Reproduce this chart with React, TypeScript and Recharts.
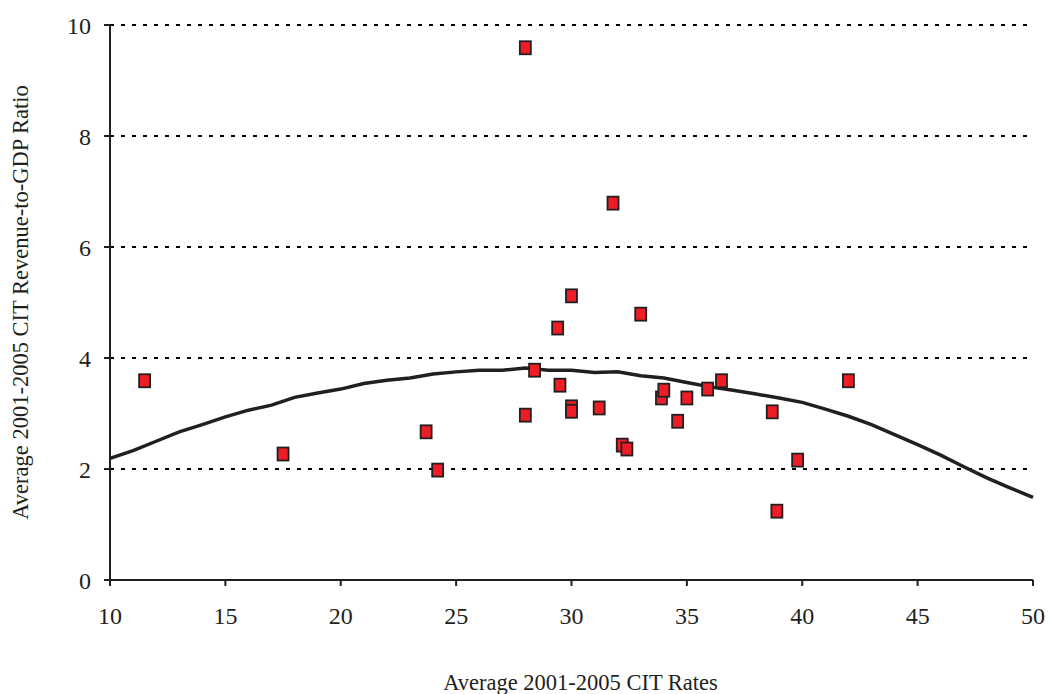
import { ComposedChart, Scatter, XAxis, YAxis, CartesianGrid } from 'recharts';

// country observations: average CIT rate vs CIT revenue / GDP
const citRates = [
  11.5, 17.5, 23.7, 24.2, 28.0, 28.0, 28.4, 29.4, 29.5, 30.0, 30.0, 30.0, 31.2,
  31.8, 32.2, 32.4, 33.0, 33.9, 34.0, 34.6, 35.0, 35.9, 36.5, 38.7, 38.9, 39.8, 42.0,
];
const revenueRatios = [
  3.59, 2.27, 2.67, 1.98, 9.59, 2.97, 3.78, 4.54, 3.51, 5.12, 3.12, 3.04, 3.1,
  6.79, 2.43, 2.36, 4.79, 3.28, 3.42, 2.86, 3.28, 3.44, 3.59, 3.03, 1.24, 2.16, 3.59,
];

// fitted trend, read at whole rates
const trendRates = [
  10, 11, 12, 13, 14, 15, 16, 17, 18, 19, 20, 21, 22, 23, 24, 25, 26, 27, 28, 29,
  30, 31, 32, 33, 34, 35, 36, 37, 38, 39, 40, 41, 42, 43, 44, 45, 46, 47, 48, 49, 50,
];
const trendRatios = [
  2.19, 2.33, 2.5, 2.67, 2.8, 2.94, 3.06, 3.15, 3.29, 3.37, 3.44, 3.54, 3.6, 3.64,
  3.71, 3.75, 3.78, 3.78, 3.82, 3.78, 3.78, 3.74, 3.75, 3.68, 3.64, 3.56, 3.48, 3.42,
  3.35, 3.28, 3.2, 3.08, 2.95, 2.8, 2.62, 2.44, 2.25, 2.04, 1.84, 1.66, 1.49,
];

const xTicks = [10, 15, 20, 25, 30, 35, 40, 45, 50];
const yTicks = [0, 2, 4, 6, 8, 10];

const points = citRates.map((x, i) => ({ x, y: revenueRatios[i] }));
const trend = trendRates.map((x, i) => ({ x, y: trendRatios[i] }));

const INK = '#231F20';
const FONT = '"Liberation Serif", "DejaVu Serif", serif';

const Square = (props: any) => {
  const { cx, cy } = props;
  if (cx == null || cy == null) return null;
  return <rect x={cx - 5.5} y={cy - 6.5} width={11} height={13} fill="#EE1C25" stroke={INK} strokeWidth={1.8} />;
};

export default function App() {
  const tick = { fontSize: 24, fill: INK, fontFamily: FONT };
  return (
    <div style={{ width: 1048, height: 694, overflow: 'hidden', background: '#fff' }}>
      <style>{'body{margin:0}'}</style>
      <ComposedChart width={1048} height={694} margin={{ top: 25, right: 15, bottom: 0, left: 0 }}>
        <CartesianGrid
          horizontal
          vertical={false}
          stroke="#000"
          strokeWidth={2}
          strokeDasharray="4 7"
          horizontalValues={[2, 4, 6, 8, 10]}
        />
        <XAxis
          type="number"
          dataKey="x"
          domain={[10, 50]}
          ticks={xTicks}
          height={114}
          tickSize={6}
          tickMargin={21}
          tick={tick}
          axisLine={{ stroke: INK, strokeWidth: 2 }}
          tickLine={{ stroke: INK, strokeWidth: 2 }}
          label={{
            value: 'Average 2001-2005 CIT Rates',
            position: 'insideBottom',
            offset: 4,
            dx: 9,
            style: { fontSize: 22.5, fill: INK, fontFamily: FONT },
          }}
        />
        <YAxis
          type="number"
          dataKey="y"
          domain={[0, 10]}
          ticks={yTicks}
          width={110}
          tickSize={6}
          tickMargin={13}
          tick={tick}
          axisLine={{ stroke: INK, strokeWidth: 2 }}
          tickLine={{ stroke: INK, strokeWidth: 2 }}
          label={{
            value: 'Average 2001-2005 CIT Revenue-to-GDP Ratio',
            angle: -90,
            position: 'insideLeft',
            offset: 20,
            style: { fontSize: 22.5, fill: INK, fontFamily: FONT, textAnchor: 'middle' },
          }}
        />
        <Scatter
          data={trend}
          line={{ stroke: INK, strokeWidth: 3.5 }}
          lineType="joint"
          shape={() => null}
          isAnimationActive={false}
        />
        <Scatter data={points} shape={Square} isAnimationActive={false} />
      </ComposedChart>
    </div>
  );
}
